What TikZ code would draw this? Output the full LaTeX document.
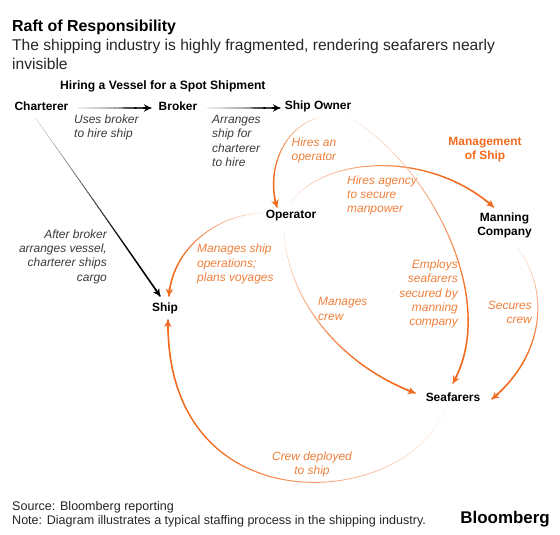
\documentclass[tikz,border=0pt]{standalone}
\usepackage{fontspec}
\setmainfont{Liberation Sans}
\usetikzlibrary{calc,arrows.meta}
\definecolor{bborange}{HTML}{F26A1E}
\definecolor{lblorange}{HTML}{F0803C}
\definecolor{lblgray}{HTML}{3A3A3A}
\newcommand\bezpt[3]{%
  \pgfmathsetmacro{#1}{(1-#3)^3*\sx+3*(1-#3)^2*#3*\ax+3*(1-#3)*#3^2*\bx+#3^3*\ex}%
  \pgfmathsetmacro{#2}{(1-#3)^3*\sy+3*(1-#3)^2*#3*\ay+3*(1-#3)*#3^2*\by+#3^3*\ey}%
}
% start, control, control, end, colour, start width, end width, start tint
\newcommand\fadearrow[8]{%
  \path let \p1=#1,\p2=#2,\p3=#3,\p4=#4 in \pgfextra{%
    \xdef\sx{\x1}\xdef\sy{\y1}\xdef\ax{\x2}\xdef\ay{\y2}%
    \xdef\bx{\x3}\xdef\by{\y3}\xdef\ex{\x4}\xdef\ey{\y4}};
  \foreach \i in {1,...,48}{%
    \pgfmathsetmacro{\tA}{(\i-1)/48}%
    \pgfmathsetmacro{\tB}{\i/48}%
    \pgfmathsetmacro{\tC}{min(\tB*1.35,1)}%
    \pgfmathsetmacro{\pct}{#8+(100-#8)*\tC}%
    \pgfmathsetmacro{\wd}{#6+(#7-#6)*\tB}%
    \bezpt{\PAx}{\PAy}{\tA}\bezpt{\PBx}{\PBy}{\tB}%
    \draw[line width=\wd bp,line cap=round,color=#5!\pct!white]
      (\PAx pt,\PAy pt) -- (\PBx pt,\PBy pt);
  }%
  \draw[line width=#7 bp,color=#5,-{Stealth[length=7bp,width=7.5bp]}]
    ($#4!8bp!#3$) -- #4;
}
\tikzset{
  actor/.style={font=\bfseries\fontsize{12}{14}\selectfont,text=black,inner sep=0pt,align=center},
  note/.style={font=\itshape\fontsize{12}{14.4}\selectfont,text=lblgray,inner sep=0pt},
  onote/.style={font=\itshape\fontsize{12}{14.2}\selectfont,text=lblorange,inner sep=0pt},
  plain/.style={inner sep=0pt,anchor=west,text=black!85},
}
\begin{document}
\begin{tikzpicture}[x=1bp,y=-1bp]
\useasboundingbox (0,0) rectangle (560,535);
\fill[white] (0,0) rectangle (560,535);
% headings
\node[plain,text=black,font=\bfseries\fontsize{16}{18}\selectfont] (title) at (12,27) {Raft of Responsibility};
\node[plain,font=\fontsize{15.65}{18}\selectfont] (sub1) at (12,46) {The shipping industry is highly fragmented, rendering seafarers nearly};
\node[plain,font=\fontsize{15.65}{18}\selectfont] (sub2) at (12,64) {invisible};
\node[plain,text=black,font=\bfseries\fontsize{12.2}{14}\selectfont] (hire) at (60,86) {Hiring a Vessel for a Spot Shipment};
% actors
\node[actor] (charterer) at (41.5,106) {Charterer};
\node[actor] (broker) at (178,106) {Broker};
\node[actor] (owner) at (318,106) {Ship Owner};
\node[actor] (operator) at (291,215.5) {Operator};
\node[actor] (manning) at (504.5,225) {Manning\\Company};
\node[actor] (ship) at (165,308) {Ship};
\node[actor] (seafarers) at (453,397) {Seafarers};
\node[actor,text=bborange] (mgmt) at (485,149.5) {Management\\of Ship};
% labels
\node[note,anchor=west,align=left] (l1) at (74,127.5) {Uses broker\\to hire ship};
\node[note,anchor=west,align=left] (l2) at (212,141) {Arranges\\ship for\\charterer\\to hire};
\node[note,anchor=east,align=right] (l3) at (107,256.5) {After broker\\arranges vessel,\\charterer ships\\cargo};
\node[onote,anchor=west,align=left] (l4) at (197,264) {Manages ship\\operations;\\plans voyages};
\node[onote,anchor=west,align=left] (l5) at (291.5,150.5) {Hires an\\operator};
\node[onote,anchor=west,align=left] (l6) at (347,195.5) {Hires agency\\to secure\\manpower};
\node[onote,anchor=east,align=right] (l7) at (458,294) {Employs\\seafarers\\secured by\\manning\\company};
\node[onote,anchor=west,align=left] (l8) at (318,309) {Manages\\crew};
\node[onote,anchor=east,align=right] (l9) at (532,312) {Secures\\crew};
\node[onote,align=center] (l10) at (312,464) {Crew deployed\\to ship};
% connectors
\fadearrow{($(charterer.center)+(36,2)$)}{($(charterer.center)+(60,2)$)}{($(broker.center)+(-50,2)$)}{($(broker.center)+(-27,2)$)}{black}{0.5}{1.3}{10}
\fadearrow{($(broker.center)+(29,2)$)}{($(broker.center)+(50,2)$)}{($(owner.center)+(-60,2)$)}{($(owner.center)+(-38,2)$)}{black}{0.5}{1.3}{10}
\fadearrow{($(charterer.center)+(-6,12)$)}{($(charterer.center)+(35,70)$)}{($(ship.center)+(-45,-70)$)}{($(ship.center)+(-5,-12)$)}{black}{0.4}{1.7}{15}
\fadearrow{($(owner.center)+(0,12)$)}{(286,126)}{(265,168)}{($(operator.center)+(-14,-8.5)$)}{bborange}{0.4}{1.6}{25}
\fadearrow{($(operator.center)+(-1,-12.5)$)}{(325,155)}{(430,150)}{($(manning.center)+(-11,-18)$)}{bborange}{0.4}{1.7}{15}
\fadearrow{($(owner.center)+(32,12)$)}{(430,165)}{(500,300)}{($(seafarers.center)+(0,-14)$)}{bborange}{0.4}{1.7}{15}
\fadearrow{($(operator.center)+(-29,-2.5)$)}{(215,215)}{(172,250)}{($(ship.center)+(4,-12)$)}{bborange}{0.4}{1.7}{15}
\fadearrow{($(operator.center)+(-7,16.5)$)}{(288,300)}{(340,365)}{($(seafarers.center)+(-38,-4)$)}{bborange}{0.4}{1.7}{15}
\fadearrow{($(manning.center)+(13,23)$)}{(550,290)}{(545,355)}{($(seafarers.center)+(39,2)$)}{bborange}{0.4}{1.7}{15}
\fadearrow{($(seafarers.center)+(-8,11)$)}{(410,510)}{(165,530)}{($(ship.center)+(3,12)$)}{bborange}{0.3}{1.7}{5}
% footer
\node[plain,font=\fontsize{12.6}{15}\selectfont] (src) at (12,507) {Source: Bloomberg reporting};
\node[plain,font=\fontsize{12.6}{15}\selectfont] (nt) at (12,521) {Note: Diagram illustrates a typical staffing process in the shipping industry.};
\node[inner sep=0pt,anchor=east,font=\bfseries\fontsize{17}{20}\selectfont,text=black] (logo) at (550,519) {Bloomberg};
\end{tikzpicture}
\end{document}
